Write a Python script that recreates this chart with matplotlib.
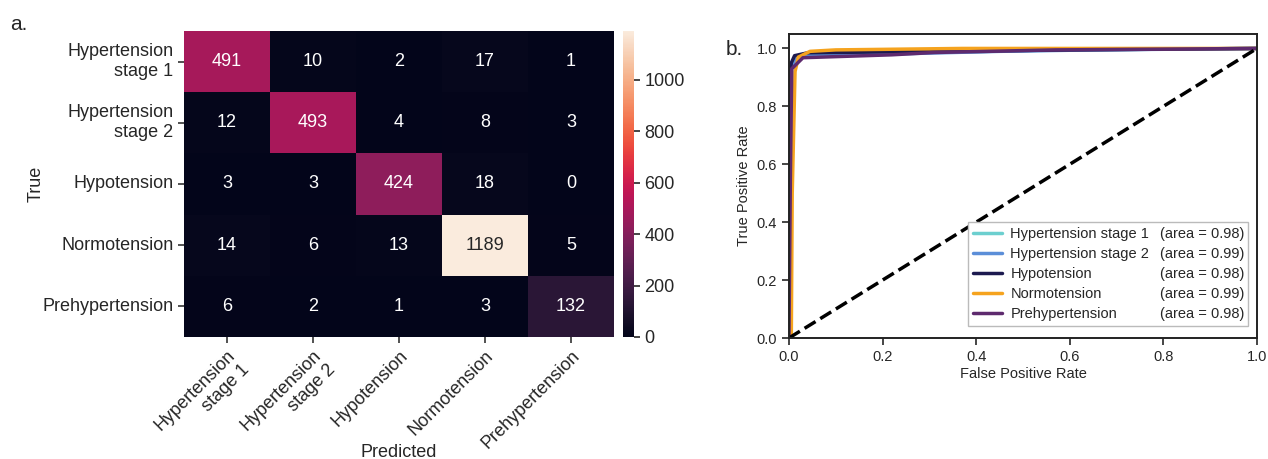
import matplotlib
matplotlib.use("Agg")
import matplotlib.pyplot as plt
from matplotlib.lines import Line2D
import numpy as np
import seaborn as sns

classes = ["Hypertension stage 1", "Hypertension stage 2", "Hypotension",
           "Normotension", "Prehypertension"]
tick_labels = ["Hypertension\nstage 1", "Hypertension\nstage 2", "Hypotension",
               "Normotension", "Prehypertension"]

cm = np.array([
    [491, 10, 2, 17, 1],
    [12, 493, 4, 8, 3],
    [3, 3, 424, 18, 0],
    [14, 6, 13, 1189, 5],
    [6, 2, 1, 3, 132],
])

# ROC points
fpr_hs1 = [0, 0.002, 0.004, 0.01, 0.03, 0.08, 0.25, 0.6, 1.0]
tpr_hs1 = [0, 0.85, 0.93, 0.96, 0.975, 0.98, 0.985, 0.995, 1.0]
fpr_hs2 = [0, 0.003, 0.006, 0.015, 0.04, 0.2, 0.45, 0.65, 1.0]
tpr_hs2 = [0, 0.88, 0.94, 0.965, 0.975, 0.98, 0.99, 0.995, 1.0]
fpr_hypo = [0, 0.002, 0.005, 0.012, 0.04, 0.3, 0.6, 1.0]
tpr_hypo = [0, 0.9, 0.95, 0.975, 0.985, 0.99, 0.995, 1.0]
fpr_norm = [0, 0.005, 0.007, 0.013, 0.02, 0.045, 0.1, 0.37, 1.0]
tpr_norm = [0, 0.0, 0.5, 0.92, 0.97, 0.99, 0.995, 1.0, 1.0]
fpr_pre = [0, 0.003, 0.006, 0.03, 0.22, 0.31, 0.57, 1.0]
tpr_pre = [0, 0.55, 0.93, 0.968, 0.978, 0.986, 0.995, 1.0]
areas = [0.98, 0.99, 0.98, 0.99, 0.98]

roc_colors = ["#6ccfcf", "#5b8ed8", "#1c1a4f", "#f5a31e", "#5e2a6e"]

sns.set_style("ticks")
plt.rcParams['font.family'] = ['Liberation Sans', 'DejaVu Sans']

fig = plt.figure(figsize=(12.68, 4.59), dpi=100)

# a. confusion matrix
ax1 = fig.add_axes([0.1451, 0.2658, 0.3391, 0.6667])
cax = fig.add_axes([0.4913, 0.2658, 0.0087, 0.6667])
sns.heatmap(cm, annot=True, fmt="d", cmap="rocket", ax=ax1, cbar_ax=cax,
            annot_kws={"fontsize": 13})
ax1.set_xticklabels(tick_labels, rotation=45, ha="right", va="top",
                    rotation_mode="anchor", fontsize=13)
ax1.set_yticklabels(tick_labels, rotation=0, fontsize=13)
ax1.tick_params(axis="both", length=4, width=1.2, color="#333333")
ax1.set_xlabel("Predicted", fontsize=13)
ax1.xaxis.set_label_coords(0.5, -0.35)
ax1.set_ylabel("True", fontsize=13)
ax1.yaxis.set_label_coords(-0.325, 0.5)
cax.tick_params(labelsize=13, length=4, width=1.2)
cax.set_yticks([0, 200, 400, 600, 800, 1000])
fig.text(0.008, 0.935, "a.", fontsize=15)

# b. ROC curves
ax2 = fig.add_axes([0.6222, 0.2636, 0.3691, 0.6624])
roc_fpr = [fpr_hs1, fpr_hs2, fpr_hypo, fpr_norm, fpr_pre]
roc_tpr = [tpr_hs1, tpr_hs2, tpr_hypo, tpr_norm, tpr_pre]
for fpr, tpr, col in zip(roc_fpr, roc_tpr, roc_colors):
    ax2.plot(fpr, tpr, color=col, lw=2.5)
ax2.plot([0, 1], [0, 1], "k--", lw=2.5)
ax2.set_xlim(0, 1.0)
ax2.set_ylim(0, 1.05)
ax2.set_xticks([0, 0.2, 0.4, 0.6, 0.8, 1.0])
ax2.set_yticks([0, 0.2, 0.4, 0.6, 0.8, 1.0])
ax2.tick_params(labelsize=10.5, length=5, width=1.2)
for sp in ax2.spines.values():
    sp.set_linewidth(1.4)
    sp.set_color("#222222")
ax2.set_xlabel("False Positive Rate", fontsize=10.5, labelpad=2)
ax2.set_ylabel("True Positive Rate", fontsize=10.5)

handles = [Line2D([], [], color=c, lw=2.5) for c in roc_colors]
blank = [Line2D([], [], color="none") for _ in classes]
labels = classes + ["(area = %.2f)" % a for a in areas]
ax2.legend(handles + blank, labels, ncol=2, loc="lower right",
           bbox_to_anchor=(0.997, 0.017), fontsize=10.5, fancybox=False,
           edgecolor="#bbbbbb", framealpha=1, handlelength=2.0,
           handletextpad=0.6, columnspacing=-1.9, labelspacing=0.42,
           borderpad=0.3)
fig.text(0.572, 0.88, "b.", fontsize=15)

fig.savefig("out.png", dpi=100)
